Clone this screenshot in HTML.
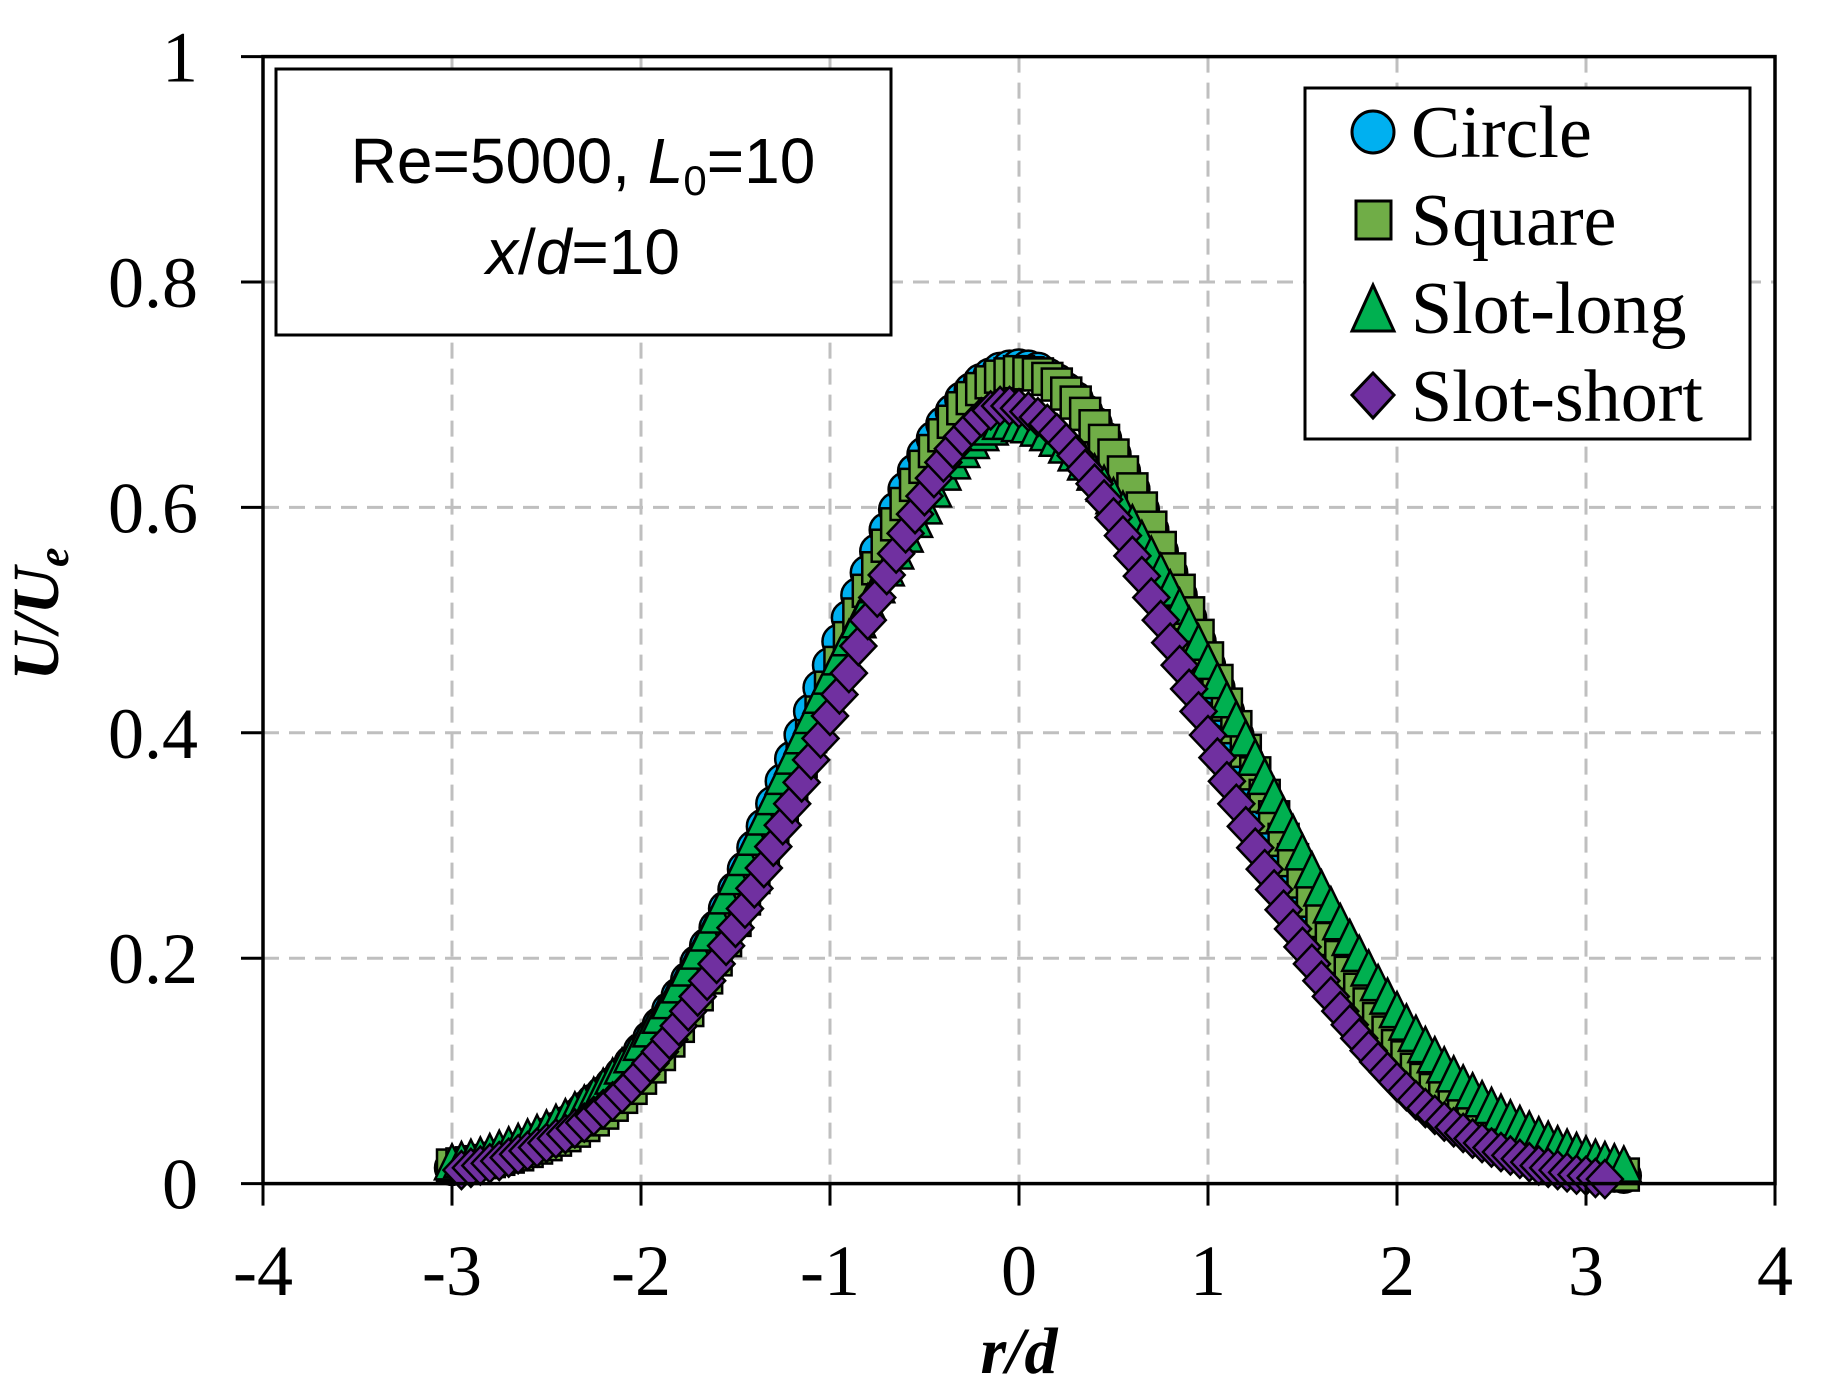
<!DOCTYPE html>
<html><head><meta charset="utf-8"><style>
html,body{margin:0;padding:0;background:#fff;}
svg{display:block;}
</style></head><body>
<svg id="chart" width="1829" height="1397" viewBox="0 0 1829 1397" xmlns="http://www.w3.org/2000/svg">
<g id="grid"></g>
<g id="series"></g>
<g id="axes"></g>
<g>
<rect x="276" y="69" width="615" height="266" fill="#fff" stroke="#000" stroke-width="3"/>
<text x="583" y="183" text-anchor="middle" font-family="'Liberation Sans',sans-serif" font-size="64">Re=5000, <tspan font-style="italic">L</tspan><tspan font-size="42" dy="12">0</tspan><tspan dy="-12">=10</tspan></text>
<text x="583" y="274" text-anchor="middle" font-family="'Liberation Sans',sans-serif" font-size="64"><tspan font-style="italic">x</tspan>/<tspan font-style="italic">d</tspan>=10</text>
</g>
<g>
<rect x="1305" y="88" width="445" height="351" fill="#fff" stroke="#000" stroke-width="3"/>
<g><circle cx="1373" cy="132" r="21" fill="#00b0f0" stroke="#000" stroke-width="3"/><text x="1411" y="157" font-family="'Liberation Serif',serif" font-size="74">Circle</text></g>
<g><rect x="1356" y="201" width="35" height="38" fill="#70ad47" stroke="#000" stroke-width="3"/><text x="1411" y="245" font-family="'Liberation Serif',serif" font-size="74">Square</text></g>
<g><polygon points="1373,285 1394,331 1352,331" fill="#00b050" stroke="#000" stroke-width="3"/><text x="1411" y="333" font-family="'Liberation Serif',serif" font-size="74">Slot-long</text></g>
<g><polygon points="1373,373 1394,395 1373,418 1352,395" fill="#7030a0" stroke="#000" stroke-width="3"/><text x="1411" y="421" font-family="'Liberation Serif',serif" font-size="74">Slot-short</text></g>
</g>
<text transform="translate(58,614) rotate(-90)" text-anchor="middle" font-family="'Liberation Serif',serif" font-size="66" font-weight="bold" font-style="italic">U/U<tspan font-size="44" dy="10">e</tspan></text>
<text x="1019" y="1373" text-anchor="middle" font-family="'Liberation Serif',serif" font-size="66" font-weight="bold" font-style="italic">r/d</text>
</svg>
<script>
const xTicks = [-4,-3,-2,-1,0,1,2,3,4];
const yTicks = [0,0.2,0.4,0.6,0.8,1];
const yTickLabels = ['0','0.2','0.4','0.6','0.8','1'];
const rValues = [-3.00,-2.95,-2.90,-2.85,-2.80,-2.75,-2.70,-2.65,-2.60,-2.55,-2.50,-2.45,-2.40,-2.35,-2.30,-2.25,-2.20,-2.15,-2.10,-2.05,-2.00,-1.95,-1.90,-1.85,-1.80,-1.75,-1.70,-1.65,-1.60,-1.55,-1.50,-1.45,-1.40,-1.35,-1.30,-1.25,-1.20,-1.15,-1.10,-1.05,-1.00,-0.95,-0.90,-0.85,-0.80,-0.75,-0.70,-0.65,-0.60,-0.55,-0.50,-0.45,-0.40,-0.35,-0.30,-0.25,-0.20,-0.15,-0.10,-0.05,0.00,0.05,0.10,0.15,0.20,0.25,0.30,0.35,0.40,0.45,0.50,0.55,0.60,0.65,0.70,0.75,0.80,0.85,0.90,0.95,1.00,1.05,1.10,1.15,1.20,1.25,1.30,1.35,1.40,1.45,1.50,1.55,1.60,1.65,1.70,1.75,1.80,1.85,1.90,1.95,2.00,2.05,2.10,2.15,2.20,2.25,2.30,2.35,2.40,2.45,2.50,2.55,2.60,2.65,2.70,2.75,2.80,2.85,2.90,2.95,3.00,3.05,3.10,3.15,3.20];
const circleU = [.014,.015,.017,.019,.021,.024,.027,.030,.034,.038,.043,.048,.053,.059,.066,.073,.080,.088,.097,.107,.118,.129,.141,.154,.167,.181,.196,.211,.227,.244,.261,.279,.298,.317,.337,.357,.377,.398,.419,.440,.460,.481,.502,.522,.542,.561,.580,.598,.616,.632,.647,.661,.674,.685,.696,.704,.712,.717,.722,.724,.725,.724,.722,.717,.712,.704,.696,.685,.674,.661,.647,.632,.616,.598,.580,.561,.542,.522,.502,.481,.460,.440,.419,.398,.377,.357,.337,.317,.298,.279,.261,.244,.227,.211,.196,.181,.167,.154,.141,.129,.118,.107,.097,.088,.080,.073,.066,.059,.053,.048,.043,.038,.034,.030,.027,.024,.021,.018,.016,.014,.012,.010,.009,.008,.007];
const squareU = [.016,.017,.018,.019,.020,.022,.024,.026,.029,.032,.035,.039,.043,.047,.052,.057,.063,.070,.077,.085,.094,.104,.115,.127,.140,.154,.168,.183,.199,.216,.234,.253,.272,.292,.312,.333,.354,.375,.397,.418,.440,.462,.484,.505,.526,.546,.566,.585,.603,.620,.636,.650,.664,.676,.688,.697,.705,.711,.716,.718,.720,.719,.718,.714,.709,.701,.693,.683,.672,.659,.646,.631,.616,.599,.582,.564,.545,.526,.506,.486,.466,.446,.425,.405,.384,.364,.344,.325,.305,.287,.268,.251,.233,.217,.201,.187,.172,.159,.146,.134,.122,.112,.101,.092,.083,.076,.068,.062,.055,.050,.044,.040,.035,.032,.028,.025,.022,.020,.017,.015,.013,.012,.010,.009,.008];
const slotLongU = [.018,.020,.022,.024,.027,.030,.033,.036,.040,.044,.048,.053,.058,.064,.070,.077,.085,.094,.103,.113,.124,.136,.148,.161,.175,.190,.205,.221,.237,.254,.271,.288,.306,.324,.342,.360,.378,.396,.414,.432,.449,.466,.483,.499,.515,.530,.545,.560,.575,.588,.600,.615,.630,.640,.650,.658,.665,.670,.675,.675,.673,.672,.669,.665,.660,.654,.647,.639,.630,.620,.609,.597,.585,.571,.557,.542,.527,.511,.495,.479,.462,.445,.428,.411,.394,.377,.360,.343,.326,.310,.293,.277,.261,.246,.231,.217,.203,.190,.177,.165,.153,.142,.132,.122,.113,.104,.096,.088,.081,.074,.068,.062,.057,.052,.047,.042,.038,.034,.031,.028,.025,.022,.020,.018,.016];
const slotShortU = [null,.012,.014,.016,.018,.020,.023,.026,.029,.032,.036,.040,.044,.049,.054,.060,.066,.073,.080,.088,.097,.107,.117,.128,.140,.153,.166,.180,.195,.211,.227,.244,.262,.280,.299,.318,.337,.356,.376,.395,.415,.434,.453,.477,.500,.520,.540,.559,.577,.594,.610,.626,.640,.652,.663,.672,.680,.686,.690,.690,.688,.685,.680,.674,.666,.657,.646,.634,.621,.607,.591,.575,.557,.539,.520,.500,.480,.460,.439,.419,.398,.378,.357,.337,.317,.298,.279,.261,.243,.226,.210,.195,.180,.166,.153,.141,.129,.118,.108,.099,.090,.082,.074,.067,.061,.055,.050,.045,.040,.036,.032,.028,.025,.022,.019,.016,.014,.012,.010,.008,.007,.005,.004,null,null];

const L=263,R=1775,T=56.6,B=1183.6;
const xScale = v => L + (v - (-4)) / 8 * (R - L);
const yScale = v => B - v / 1 * (B - T);
const NS='http://www.w3.org/2000/svg';
function mk(tag, attrs, parent){const e=document.createElementNS(NS,tag);for(const k in attrs)e.setAttribute(k,attrs[k]);parent.appendChild(e);return e;}
const grid=document.getElementById('grid'), axes=document.getElementById('axes'), series=document.getElementById('series');

xTicks.forEach(t=>{
  if(t>-4 && t<4){
    const g=mk('line',{x1:xScale(t),x2:xScale(t),y1:T,y2:B,stroke:'#bfbfbf','stroke-width':3,'stroke-dasharray':'16,10'},grid);
    
    
  }
  const tk=mk('line',{x1:xScale(t),x2:xScale(t),y1:B,y2:B+22,stroke:'#000','stroke-width':3},axes);
  
  
  const lb=mk('text',{x:xScale(t),y:1295,'text-anchor':'middle','font-family':"'Liberation Serif',serif",'font-size':72},axes);
  lb.textContent=String(t);
  
  
});
yTicks.forEach((t,i)=>{
  if(t>0 && t<1){
    const g=mk('line',{x1:L,x2:R,y1:yScale(t),y2:yScale(t),stroke:'#bfbfbf','stroke-width':3,'stroke-dasharray':'16,10'},grid);
    
    
  }
  const tk=mk('line',{x1:241,x2:L,y1:yScale(t),y2:yScale(t),stroke:'#000','stroke-width':3},axes);
  
  
  const lb=mk('text',{x:198,y:yScale(t)+25,'text-anchor':'end','font-family':"'Liberation Serif',serif",'font-size':72},axes);
  lb.textContent=yTickLabels[i];
  
  
});
const fr=mk('rect',{x:L,y:T,width:R-L,height:B-T,fill:'none',stroke:'#000','stroke-width':3.5},axes);



function drawSeries(vals, kind, fill, name){
  const g=mk('g',{},series);
  
  
  rValues.forEach((r,i)=>{
    const v=vals[i]; if(v===null||v===undefined) return;
    const cx=xScale(r), cy=yScale(v); let m;
    if(kind==='circle') m=mk('circle',{cx,cy,r:17},g);
    else if(kind==='square') m=mk('rect',{x:cx-15,y:cy-16,width:30,height:32},g);
    else if(kind==='tri') m=mk('polygon',{points:`${cx},${cy-19} ${cx+17},${cy+16} ${cx-17},${cy+16}`},g);
    else m=mk('polygon',{points:`${cx},${cy-19} ${cx+18},${cy} ${cx},${cy+19} ${cx-18},${cy}`},g);
    m.setAttribute('fill',fill);m.setAttribute('stroke','#000');m.setAttribute('stroke-width','2.5');
    
    
  });
}
drawSeries(circleU,'circle','#00b0f0','series-circle');
drawSeries(squareU,'square','#70ad47','series-square');
drawSeries(slotLongU,'tri','#00b050','series-slot-long');
drawSeries(slotShortU,'diamond','#7030a0','series-slot-short');
</script>
</body></html>
